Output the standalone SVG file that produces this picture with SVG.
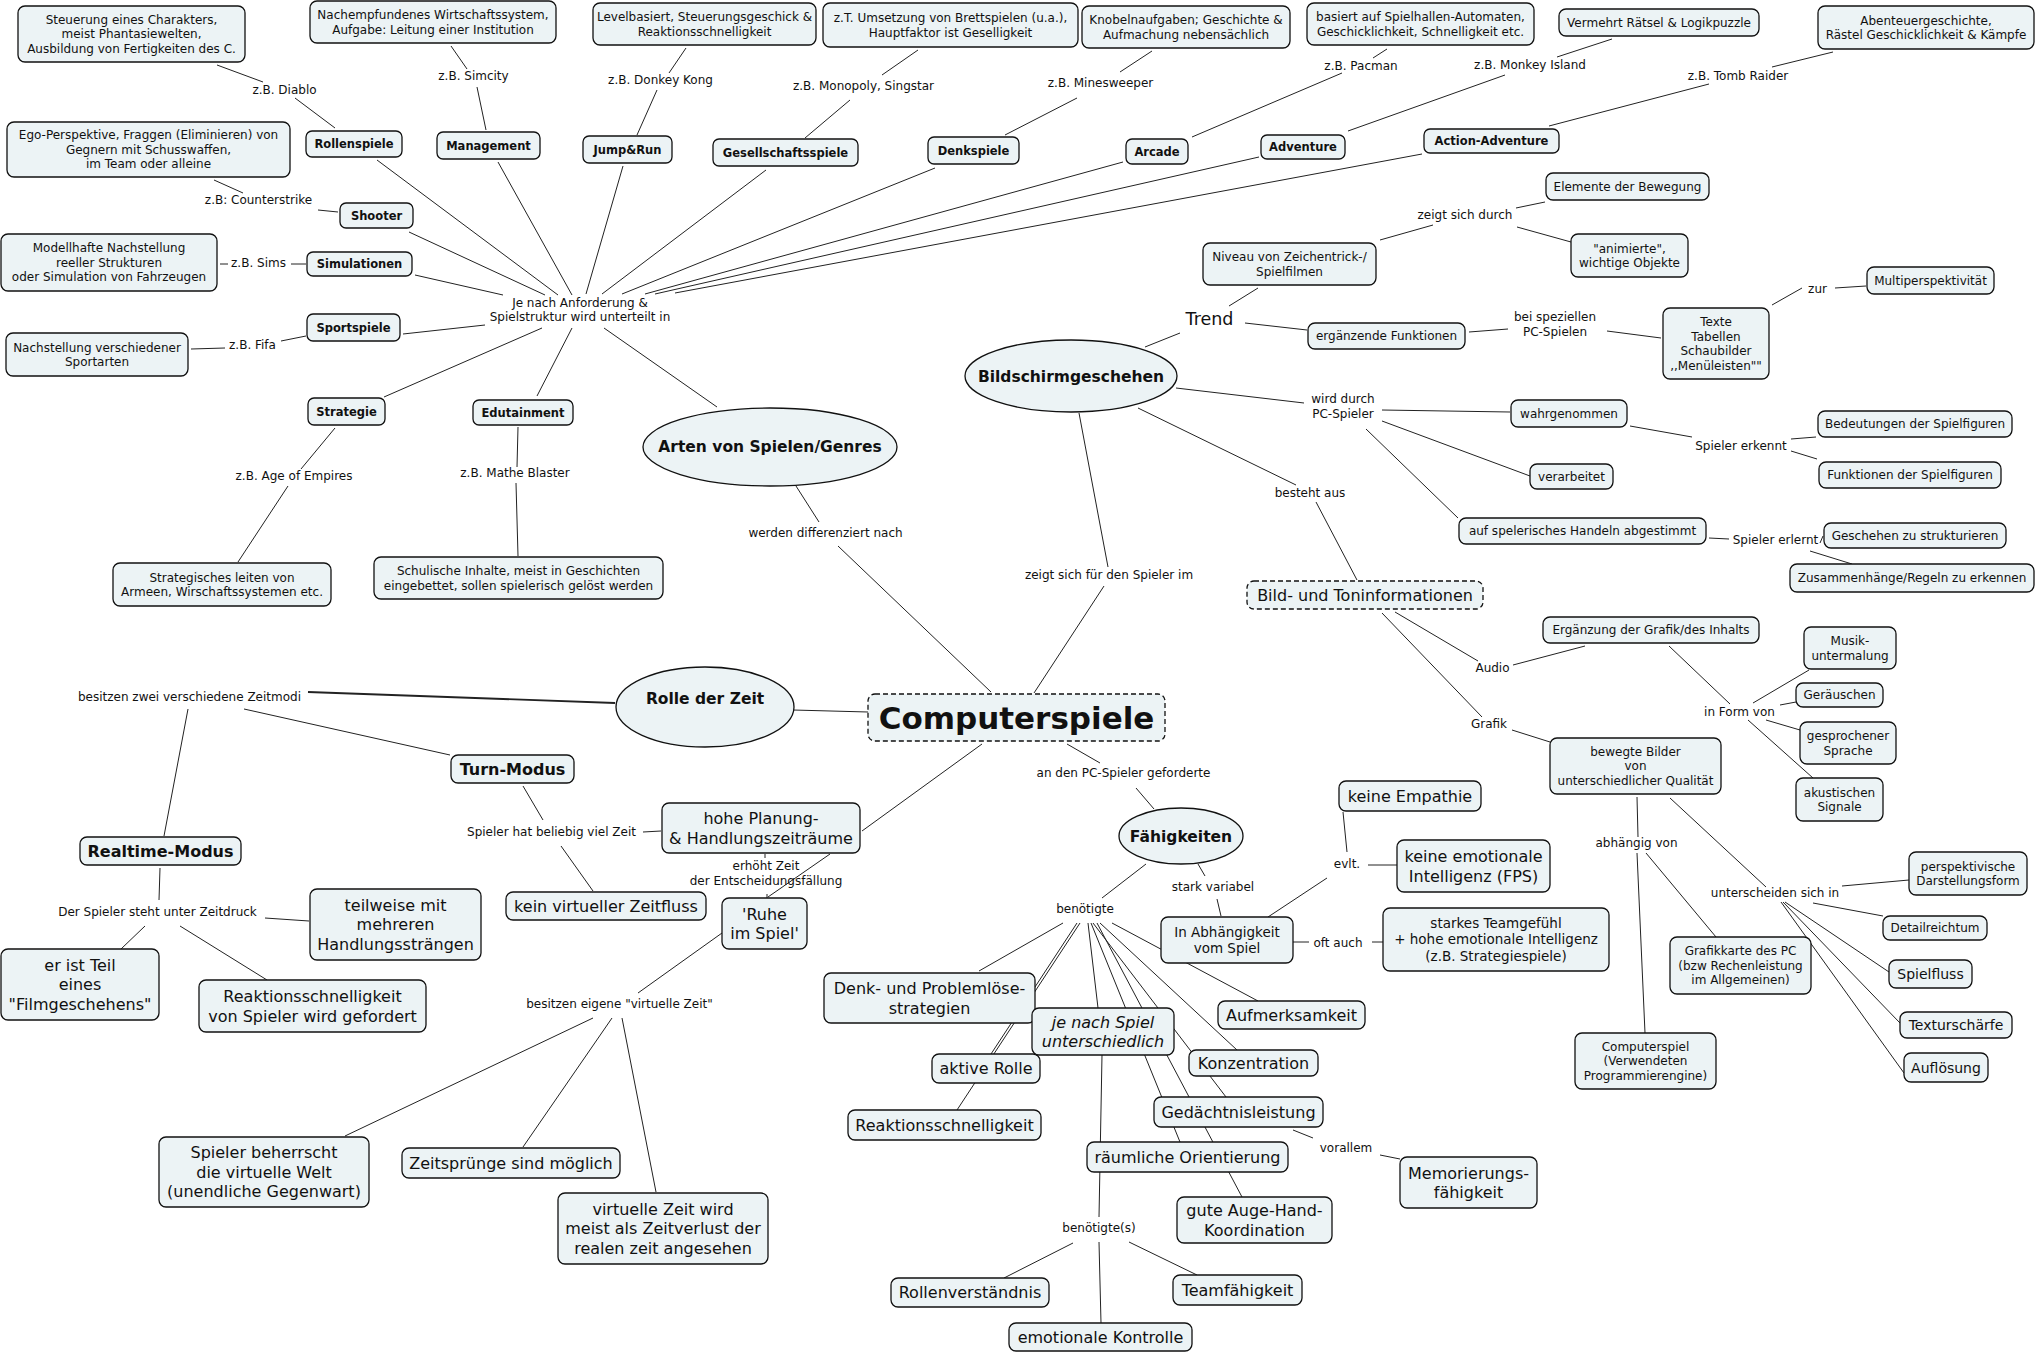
<svg xmlns="http://www.w3.org/2000/svg" width="2037" height="1354" viewBox="0 0 2037 1354">
<style>
text{font-family:"DejaVu Sans",Verdana,sans-serif;fill:#111;text-anchor:middle}
.box{fill:#ecf3f5;stroke:#111;stroke-width:1.3}
.dash{stroke-dasharray:5 3}
.s{font-size:12px}.g{font-size:11.5px;font-weight:bold}.m{font-size:16px}.mb{font-size:16px;font-weight:bold}
.e{font-size:15.5px;font-weight:bold}.n{font-size:13.5px}.k{font-size:14px}.i{font-style:italic}
#edges line{stroke:#222;stroke-width:1;fill:none}
</style>
<rect width="2037" height="1354" fill="#fff"/>
<g id="edges">
<line x1="217" y1="65" x2="263" y2="82"/><line x1="295" y1="98" x2="335" y2="128"/>
<line x1="451" y1="46" x2="467" y2="69"/><line x1="477" y1="87" x2="486" y2="130"/>
<line x1="214" y1="180" x2="243" y2="193"/><line x1="318" y1="210" x2="338" y2="212"/>
<line x1="220" y1="264" x2="228" y2="264"/><line x1="291" y1="264" x2="306" y2="264"/>
<line x1="191" y1="349" x2="225" y2="348"/><line x1="281" y1="341" x2="306" y2="336"/>
<line x1="377" y1="160" x2="558" y2="295"/><line x1="409" y1="232" x2="545" y2="295"/>
<line x1="415" y1="275" x2="503" y2="295"/><line x1="403" y1="334" x2="485" y2="325"/>
<line x1="384" y1="397" x2="542" y2="328"/><line x1="498" y1="162" x2="572" y2="295"/>
<line x1="623" y1="166" x2="586" y2="294"/><line x1="766" y1="170" x2="602" y2="294"/>
<line x1="935" y1="168" x2="622" y2="294"/><line x1="1123" y1="162" x2="645" y2="294"/>
<line x1="1259" y1="157" x2="655" y2="294"/><line x1="1422" y1="154" x2="675" y2="293"/>
<line x1="537" y1="396" x2="572" y2="328"/><line x1="604" y1="328" x2="717" y2="407"/>
<line x1="335" y1="428" x2="301" y2="469"/><line x1="288" y1="486" x2="238" y2="562"/>
<line x1="518" y1="427" x2="517" y2="467"/><line x1="516" y1="483" x2="518" y2="556"/>
<line x1="686" y1="48" x2="669" y2="73"/><line x1="657" y1="90" x2="637" y2="135"/>
<line x1="918" y1="50" x2="882" y2="75"/><line x1="850" y1="100" x2="805" y2="138"/>
<line x1="1152" y1="51" x2="1120" y2="72"/><line x1="1077" y1="98" x2="1005" y2="135"/>
<line x1="1192" y1="137" x2="1342" y2="73"/><line x1="1373" y1="58" x2="1387" y2="49"/>
<line x1="1348" y1="131" x2="1505" y2="75"/><line x1="1557" y1="57" x2="1612" y2="39"/>
<line x1="1549" y1="126" x2="1709" y2="84"/><line x1="1772" y1="67" x2="1833" y2="52"/>
<line x1="1145" y1="347" x2="1180" y2="333"/><line x1="1229" y1="306" x2="1258" y2="288"/>
<line x1="1380" y1="240" x2="1433" y2="225"/><line x1="1516" y1="208" x2="1545" y2="202"/>
<line x1="1517" y1="227" x2="1571" y2="242"/>
<line x1="1245" y1="323" x2="1307" y2="330"/><line x1="1469" y1="332" x2="1508" y2="329"/>
<line x1="1607" y1="331" x2="1661" y2="338"/><line x1="1772" y1="305" x2="1802" y2="288"/>
<line x1="1835" y1="288" x2="1866" y2="286"/>
<line x1="1176" y1="388" x2="1304" y2="403"/><line x1="1382" y1="410" x2="1510" y2="412"/>
<line x1="1630" y1="426" x2="1692" y2="437"/><line x1="1791" y1="439" x2="1816" y2="437"/>
<line x1="1791" y1="451" x2="1817" y2="459"/>
<line x1="1382" y1="421" x2="1530" y2="476"/><line x1="1366" y1="429" x2="1458" y2="518"/>
<line x1="1709" y1="538" x2="1729" y2="539"/><line x1="1820" y1="543" x2="1823" y2="536"/>
<line x1="1810" y1="551" x2="1852" y2="564"/>
<line x1="1138" y1="408" x2="1296" y2="485"/><line x1="1316" y1="502" x2="1357" y2="580"/>
<line x1="1079" y1="413" x2="1108" y2="567"/><line x1="1104" y1="586" x2="1034" y2="693"/>
<line x1="991" y1="692" x2="838" y2="546"/><line x1="819" y1="522" x2="796" y2="486"/>
<line x1="793" y1="710" x2="868" y2="712"/><line x1="615" y1="703" x2="308" y2="692" style="stroke-width:1.8"/>
<line x1="244" y1="709" x2="450" y2="755"/><line x1="188" y1="709" x2="164" y2="836"/>
<line x1="160" y1="868" x2="159" y2="900"/><line x1="265" y1="918" x2="309" y2="921"/>
<line x1="145" y1="926" x2="121" y2="949"/><line x1="180" y1="926" x2="267" y2="980"/>
<line x1="523" y1="786" x2="543" y2="820"/><line x1="643" y1="832" x2="661" y2="831"/>
<line x1="561" y1="846" x2="593" y2="891"/>
<line x1="982" y1="744" x2="862" y2="831"/>
<line x1="830" y1="854" x2="768" y2="897"/><line x1="765" y1="854" x2="765" y2="858"/>
<line x1="767" y1="894" x2="767" y2="898"/>
<line x1="722" y1="933" x2="638" y2="993"/><line x1="593" y1="1018" x2="345" y2="1136"/>
<line x1="612" y1="1018" x2="523" y2="1147"/><line x1="622" y1="1018" x2="656" y2="1192"/>
<line x1="1067" y1="744" x2="1100" y2="763"/><line x1="1136" y1="788" x2="1154" y2="809"/>
<line x1="1198" y1="864" x2="1205" y2="876"/><line x1="1217" y1="899" x2="1221" y2="916"/>
<line x1="1146" y1="864" x2="1102" y2="898"/>
<line x1="1063" y1="923" x2="979" y2="971"/><line x1="1077" y1="923" x2="991" y2="1054"/>
<line x1="1080" y1="923" x2="957" y2="1110"/><line x1="1088" y1="923" x2="1098" y2="1008"/>
<line x1="1091" y1="923" x2="1180" y2="1142"/><line x1="1097" y1="923" x2="1242" y2="1197"/>
<line x1="1093" y1="923" x2="1226" y2="1097"/><line x1="1100" y1="923" x2="1237" y2="1050"/>
<line x1="1112" y1="923" x2="1258" y2="1001"/>
<line x1="1102" y1="1055" x2="1099" y2="1217"/>
<line x1="1073" y1="1243" x2="1004" y2="1278"/><line x1="1099" y1="1242" x2="1101" y2="1323"/>
<line x1="1129" y1="1242" x2="1197" y2="1275"/>
<line x1="1293" y1="1130" x2="1313" y2="1138"/><line x1="1380" y1="1155" x2="1400" y2="1159"/>
<line x1="1268" y1="917" x2="1327" y2="878"/><line x1="1347" y1="852" x2="1343" y2="812"/>
<line x1="1368" y1="865" x2="1397" y2="865"/>
<line x1="1293" y1="942" x2="1309" y2="942"/><line x1="1372" y1="942" x2="1383" y2="942"/>
<line x1="1395" y1="612" x2="1478" y2="661"/><line x1="1513" y1="665" x2="1585" y2="646"/>
<line x1="1382" y1="613" x2="1482" y2="717"/><line x1="1512" y1="730" x2="1550" y2="742"/>
<line x1="1669" y1="646" x2="1730" y2="704"/><line x1="1753" y1="703" x2="1809" y2="670"/>
<line x1="1780" y1="705" x2="1796" y2="702"/><line x1="1766" y1="720" x2="1800" y2="730"/>
<line x1="1748" y1="720" x2="1813" y2="778"/>
<line x1="1637" y1="797" x2="1638" y2="837"/><line x1="1637" y1="853" x2="1645" y2="1033"/>
<line x1="1646" y1="853" x2="1716" y2="937"/>
<line x1="1670" y1="798" x2="1766" y2="887"/><line x1="1842" y1="886" x2="1909" y2="880"/>
<line x1="1813" y1="903" x2="1883" y2="916"/><line x1="1785" y1="902" x2="1889" y2="972"/>
<line x1="1783" y1="902" x2="1900" y2="1023"/><line x1="1781" y1="902" x2="1904" y2="1073"/>
</g>
<g id="labels" class="s">
<text x="284.5" y="94.3">z.B. Diablo</text>
<text x="473.5" y="80.3">z.B. Simcity</text>
<text x="258.5" y="204.3">z.B: Counterstrike</text>
<text x="258.5" y="267.3">z.B. Sims</text>
<text x="580" y="307.3">Je nach Anforderung &amp;<tspan x="580" dy="14">Spielstruktur wird unterteilt in</tspan></text>
<text x="252.5" y="349.3">z.B. Fifa</text>
<text x="294" y="480.3">z.B. Age of Empires</text>
<text x="515" y="477.3">z.B. Mathe Blaster</text>
<text x="660.5" y="84.3">z.B. Donkey Kong</text>
<text x="863.5" y="90.3">z.B. Monopoly, Singstar</text>
<text x="1100.5" y="87.3">z.B. Minesweeper</text>
<text x="1361" y="70.3">z.B. Pacman</text>
<text x="1530" y="69.3">z.B. Monkey Island</text>
<text x="1738" y="80.3">z.B. Tomb Raider</text>
<text x="1209.5" y="325.3" style="font-size:17.5px">Trend</text>
<text x="1465" y="219.3">zeigt sich durch</text>
<text x="1555" y="321.3">bei speziellen<tspan x="1555" dy="15">PC-Spielen</tspan></text>
<text x="1817.5" y="293.3">zur</text>
<text x="1343" y="403.3">wird durch<tspan x="1343" dy="15">PC-Spieler</tspan></text>
<text x="1741" y="450.3">Spieler erkennt</text>
<text x="1775.5" y="544.3">Spieler erlernt</text>
<text x="1310" y="497.3">besteht aus</text>
<text x="1109" y="579.3">zeigt sich für den Spieler im</text>
<text x="825.5" y="537.3">werden differenziert nach</text>
<text x="189.5" y="701.3">besitzen zwei verschiedene Zeitmodi</text>
<text x="157.5" y="916.3">Der Spieler steht unter Zeitdruck</text>
<text x="551.5" y="836.3">Spieler hat beliebig viel Zeit</text>
<text x="766" y="870.3">erhöht Zeit<tspan x="766" dy="15">der Entscheidungsfällung</tspan></text>
<text x="619.5" y="1008.3">besitzen eigene "virtuelle Zeit"</text>
<text x="1123.5" y="777.3">an den PC-Spieler geforderte</text>
<text x="1213" y="891.3">stark variabel</text>
<text x="1085" y="913.3">benötigte</text>
<text x="1347" y="868.3">evlt.</text>
<text x="1338" y="947.3">oft auch</text>
<text x="1346" y="1152.3">vorallem</text>
<text x="1099" y="1232.3">benötigte(s)</text>
<text x="1492.5" y="672.3">Audio</text>
<text x="1489" y="728.3">Grafik</text>
<text x="1739.5" y="716.3">in Form von</text>
<text x="1636.5" y="847.3">abhängig von</text>
<text x="1775" y="897.3">unterscheiden sich in</text>
</g>
<g id="n_steuerung"><rect class="box" x="18" y="6" width="227" height="56" rx="7"/><text class="s" x="131.5" y="23.8">Steuerung eines Charakters,<tspan x="131.5" dy="14.5">meist Phantasiewelten,</tspan><tspan x="131.5" dy="14.5">Ausbildung von Fertigkeiten des C.</tspan></text></g>
<g id="n_rollenspiele"><rect class="box" x="306" y="131" width="96" height="26" rx="6"/><text class="g" x="354" y="148.1">Rollenspiele</text></g>
<g id="n_wirtschaft"><rect class="box" x="310" y="1" width="246" height="42" rx="7"/><text class="s" x="433" y="19.05">Nachempfundenes Wirtschaftssystem,<tspan x="433" dy="14.5">Aufgabe: Leitung einer Institution</tspan></text></g>
<g id="n_management"><rect class="box" x="437" y="132" width="103" height="27" rx="6"/><text class="g" x="488.5" y="149.6">Management</text></g>
<g id="n_ego"><rect class="box" x="7" y="122" width="283" height="55" rx="7"/><text class="s" x="148.5" y="139.3">Ego-Perspektive, Fraggen (Eliminieren) von<tspan x="148.5" dy="14.5">Gegnern mit Schusswaffen,</tspan><tspan x="148.5" dy="14.5">im Team oder alleine</tspan></text></g>
<g id="n_shooter"><rect class="box" x="340" y="203" width="73" height="25" rx="6"/><text class="g" x="376.5" y="219.6">Shooter</text></g>
<g id="n_modell"><rect class="box" x="1" y="234" width="216" height="57" rx="7"/><text class="s" x="109" y="252.3">Modellhafte Nachstellung<tspan x="109" dy="14.5">reeller Strukturen</tspan><tspan x="109" dy="14.5">oder Simulation von Fahrzeugen</tspan></text></g>
<g id="n_simulationen"><rect class="box" x="307" y="252" width="105" height="24" rx="6"/><text class="g" x="359.5" y="268.1">Simulationen</text></g>
<g id="n_sportspiele"><rect class="box" x="307" y="314" width="93" height="27" rx="6"/><text class="g" x="353.5" y="331.6">Sportspiele</text></g>
<g id="n_nachstellung"><rect class="box" x="6" y="333" width="182" height="43" rx="7"/><text class="s" x="97" y="351.55">Nachstellung verschiedener<tspan x="97" dy="14.5">Sportarten</tspan></text></g>
<g id="n_strategie"><rect class="box" x="308" y="398" width="77" height="27" rx="6"/><text class="g" x="346.5" y="415.6">Strategie</text></g>
<g id="n_edutainment"><rect class="box" x="473" y="400" width="100" height="25" rx="6"/><text class="g" x="523" y="416.6">Edutainment</text></g>
<g id="n_strat_desc"><rect class="box" x="113" y="563" width="218" height="43" rx="7"/><text class="s" x="222" y="581.55">Strategisches leiten von<tspan x="222" dy="14.5">Armeen, Wirschaftssystemen etc.</tspan></text></g>
<g id="n_schulisch"><rect class="box" x="374" y="557" width="289" height="42" rx="7"/><text class="s" x="518.5" y="575.05">Schulische Inhalte, meist in Geschichten<tspan x="518.5" dy="14.5">eingebettet, sollen spielerisch gelöst werden</tspan></text></g>
<g id="n_level"><rect class="box" x="593" y="3" width="223" height="42" rx="7"/><text class="s" x="704.5" y="21.05">Levelbasiert, Steuerungsgeschick &amp;<tspan x="704.5" dy="14.5">Reaktionsschnelligkeit</tspan></text></g>
<g id="n_jumprun"><rect class="box" x="583" y="136" width="89" height="27" rx="6"/><text class="g" x="627.5" y="153.6">Jump&amp;Run</text></g>
<g id="n_brett"><rect class="box" x="823" y="3" width="255" height="44" rx="7"/><text class="s" x="950.5" y="22.05">z.T. Umsetzung von Brettspielen (u.a.),<tspan x="950.5" dy="14.5">Hauptfaktor ist Geselligkeit</tspan></text></g>
<g id="n_gesellschaft"><rect class="box" x="713" y="139" width="145" height="27" rx="6"/><text class="g" x="785.5" y="156.6">Gesellschaftsspiele</text></g>
<g id="n_denkspiele"><rect class="box" x="928" y="137" width="91" height="27" rx="6"/><text class="g" x="973.5" y="154.6">Denkspiele</text></g>
<g id="n_knobel"><rect class="box" x="1082" y="6" width="208" height="42" rx="7"/><text class="s" x="1186" y="24.05">Knobelnaufgaben; Geschichte &amp;<tspan x="1186" dy="14.5">Aufmachung nebensächlich</tspan></text></g>
<g id="n_arcade"><rect class="box" x="1126" y="139" width="62" height="25" rx="6"/><text class="g" x="1157" y="155.6">Arcade</text></g>
<g id="n_spielhallen"><rect class="box" x="1307" y="3" width="227" height="42" rx="7"/><text class="s" x="1420.5" y="21.05">basiert auf Spielhallen-Automaten,<tspan x="1420.5" dy="14.5">Geschicklichkeit, Schnelligkeit etc.</tspan></text></g>
<g id="n_adventure"><rect class="box" x="1261" y="135" width="84" height="24" rx="6"/><text class="g" x="1303" y="151.1">Adventure</text></g>
<g id="n_raetsel"><rect class="box" x="1559" y="9" width="200" height="27" rx="7"/><text class="s" x="1659" y="26.8">Vermehrt Rätsel &amp; Logikpuzzle</text></g>
<g id="n_actadv"><rect class="box" x="1424" y="129" width="135" height="24" rx="6"/><text class="g" x="1491.5" y="145.1">Action-Adventure</text></g>
<g id="n_abenteuer"><rect class="box" x="1818" y="6" width="216" height="43" rx="7"/><text class="s" x="1926" y="24.55">Abenteuergeschichte,<tspan x="1926" dy="14.5">Rästel Geschicklichkeit &amp; Kämpfe</tspan></text></g>
<g id="n_bildschirm"><ellipse class="box" cx="1071" cy="376" rx="106" ry="36"/><text class="e" x="1071" y="381.6">Bildschirmgeschehen</text></g>
<g id="n_niveau"><rect class="box" x="1203" y="243" width="173" height="42" rx="7"/><text class="s" x="1289.5" y="261.05">Niveau von Zeichentrick-/<tspan x="1289.5" dy="14.5">Spielfilmen</tspan></text></g>
<g id="n_elemente"><rect class="box" x="1546" y="173" width="163" height="27" rx="7"/><text class="s" x="1627.5" y="190.8">Elemente der Bewegung</text></g>
<g id="n_animiert"><rect class="box" x="1571" y="234" width="117" height="43" rx="7"/><text class="s" x="1629.5" y="252.55">"animierte",<tspan x="1629.5" dy="14.5">wichtige Objekte</tspan></text></g>
<g id="n_ergaenzend"><rect class="box" x="1308" y="323" width="157" height="26" rx="7"/><text class="s" x="1386.5" y="340.3">ergänzende Funktionen</text></g>
<g id="n_texte"><rect class="box" x="1663" y="308" width="106" height="71" rx="7"/><text class="s" x="1716" y="326.05">Texte<tspan x="1716" dy="14.5">Tabellen</tspan><tspan x="1716" dy="14.5">Schaubilder</tspan><tspan x="1716" dy="14.5">,,Menüleisten""</tspan></text></g>
<g id="n_multi"><rect class="box" x="1867" y="267" width="127" height="27" rx="7"/><text class="s" x="1930.5" y="284.8">Multiperspektivität</text></g>
<g id="n_wahr"><rect class="box" x="1511" y="400" width="116" height="27" rx="7"/><text class="s" x="1569" y="417.8">wahrgenommen</text></g>
<g id="n_bedeutungen"><rect class="box" x="1818" y="411" width="194" height="26" rx="7"/><text class="s" x="1915" y="428.3">Bedeutungen der Spielfiguren</text></g>
<g id="n_funktionen"><rect class="box" x="1819" y="462" width="182" height="26" rx="7"/><text class="s" x="1910" y="479.3">Funktionen der Spielfiguren</text></g>
<g id="n_verarbeitet"><rect class="box" x="1530" y="464" width="83" height="25" rx="7"/><text class="s" x="1571.5" y="480.8">verarbeitet</text></g>
<g id="n_handeln"><rect class="box" x="1459" y="518" width="247" height="26" rx="7"/><text class="s" x="1582.5" y="535.3">auf spelerisches Handeln abgestimmt</text></g>
<g id="n_geschehen"><rect class="box" x="1824" y="523" width="182" height="25" rx="7"/><text class="s" x="1915" y="539.8">Geschehen zu strukturieren</text></g>
<g id="n_zusammen"><rect class="box" x="1790" y="564" width="244" height="28" rx="7"/><text class="s" x="1912" y="582.3">Zusammenhänge/Regeln zu erkennen</text></g>
<g id="n_bildton"><rect class="box dash" x="1247" y="581" width="236" height="28" rx="7"/><text class="m" x="1365" y="600.8">Bild- und Toninformationen</text></g>
<g id="n_computerspiele"><rect class="box dash" x="868" y="694" width="297" height="47" rx="7"/><text x="1016.5" y="728.7" style="font-size:31px;font-weight:bold">Computerspiele</text></g>
<g id="n_arten"><ellipse class="box" cx="770" cy="447" rx="127" ry="39"/><text class="e" x="770" y="451.6">Arten von Spielen/Genres</text></g>
<g id="n_rolle"><ellipse class="box" cx="705" cy="707" rx="89" ry="40"/><text class="e" x="705" y="703.6">Rolle der Zeit</text></g>
<g id="n_turn"><rect class="box" x="451" y="755" width="123" height="28" rx="7"/><text class="mb" x="512.5" y="774.8">Turn-Modus</text></g>
<g id="n_realtime"><rect class="box" x="80" y="837" width="161" height="28" rx="7"/><text class="mb" x="160.5" y="856.8">Realtime-Modus</text></g>
<g id="n_teilweise"><rect class="box" x="310" y="889" width="171" height="71" rx="7"/><text class="m" x="395.5" y="910.8">teilweise mit<tspan x="395.5" dy="19.5">mehreren</tspan><tspan x="395.5" dy="19.5">Handlungssträngen</tspan></text></g>
<g id="n_teil"><rect class="box" x="1" y="949" width="158" height="71" rx="7"/><text class="m" x="80" y="970.8">er ist Teil<tspan x="80" dy="19.5">eines</tspan><tspan x="80" dy="19.5">"Filmgeschehens"</tspan></text></g>
<g id="n_reaktion1"><rect class="box" x="199" y="980" width="227" height="52" rx="7"/><text class="m" x="312.5" y="1002.05">Reaktionsschnelligkeit<tspan x="312.5" dy="19.5">von Spieler wird gefordert</tspan></text></g>
<g id="n_planung"><rect class="box" x="662" y="803" width="198" height="50" rx="7"/><text class="m" x="761" y="824.05">hohe Planung-<tspan x="761" dy="19.5">&amp; Handlungszeiträume</tspan></text></g>
<g id="n_kein"><rect class="box" x="506" y="892" width="200" height="28" rx="7"/><text class="m" x="606" y="911.8">kein virtueller Zeitfluss</text></g>
<g id="n_ruhe"><rect class="box" x="722" y="898" width="85" height="51" rx="7"/><text class="m" x="764.5" y="919.55">'Ruhe<tspan x="764.5" dy="19.5">im Spiel'</tspan></text></g>
<g id="n_beherrscht"><rect class="box" x="159" y="1137" width="210" height="70" rx="7"/><text class="m" x="264" y="1158.3">Spieler beherrscht<tspan x="264" dy="19.5">die virtuelle Welt</tspan><tspan x="264" dy="19.5">(unendliche Gegenwart)</tspan></text></g>
<g id="n_zeitspruenge"><rect class="box" x="402" y="1148" width="218" height="30" rx="7"/><text class="m" x="511" y="1168.8">Zeitsprünge sind möglich</text></g>
<g id="n_virtzeit"><rect class="box" x="558" y="1193" width="210" height="71" rx="7"/><text class="m" x="663" y="1214.8">virtuelle Zeit wird<tspan x="663" dy="19.5">meist als Zeitverlust der</tspan><tspan x="663" dy="19.5">realen zeit angesehen</tspan></text></g>
<g id="n_faehigkeiten"><ellipse class="box" cx="1181" cy="836" rx="62" ry="28"/><text class="e" x="1181" y="841.6">Fähigkeiten</text></g>
<g id="n_abhaengig"><rect class="box" x="1161" y="917" width="132" height="46" rx="7"/><text class="n" x="1227" y="936.55">In Abhängigkeit<tspan x="1227" dy="16.7">vom Spiel</tspan></text></g>
<g id="n_empathie"><rect class="box" x="1339" y="781" width="142" height="30" rx="7"/><text class="m" x="1410" y="801.8">keine Empathie</text></g>
<g id="n_keineemo"><rect class="box" x="1397" y="840" width="153" height="52" rx="7"/><text class="m" x="1473.5" y="862.05">keine emotionale<tspan x="1473.5" dy="19.5">Intelligenz (FPS)</tspan></text></g>
<g id="n_team"><rect class="box" x="1383" y="908" width="226" height="63" rx="7"/><text class="n" x="1496" y="927.7">starkes Teamgefühl<tspan x="1496" dy="16.7">+ hohe emotionale Intelligenz</tspan><tspan x="1496" dy="16.7">(z.B. Strategiespiele)</tspan></text></g>
<g id="n_denkprob"><rect class="box" x="824" y="973" width="211" height="50" rx="7"/><text class="m" x="929.5" y="994.05">Denk- und Problemlöse-<tspan x="929.5" dy="19.5">strategien</tspan></text></g>
<g id="n_aktiv"><rect class="box" x="932" y="1054" width="108" height="29" rx="7"/><text class="m" x="986" y="1074.3">aktive Rolle</text></g>
<g id="n_reaktion2"><rect class="box" x="848" y="1110" width="193" height="30" rx="7"/><text class="m" x="944.5" y="1130.8">Reaktionsschnelligkeit</text></g>
<g id="n_jenach"><rect class="box" x="1032" y="1008" width="142" height="47" rx="7"/><text class="m i" x="1103" y="1027.55">je nach Spiel<tspan x="1103" dy="19.5">unterschiedlich</tspan></text></g>
<g id="n_aufmerk"><rect class="box" x="1218" y="1001" width="147" height="28" rx="7"/><text class="m" x="1291.5" y="1020.8">Aufmerksamkeit</text></g>
<g id="n_konz"><rect class="box" x="1189" y="1050" width="129" height="26" rx="7"/><text class="m" x="1253.5" y="1068.8">Konzentration</text></g>
<g id="n_gedaechtnis"><rect class="box" x="1154" y="1097" width="169" height="30" rx="7"/><text class="m" x="1238.5" y="1117.8">Gedächtnisleistung</text></g>
<g id="n_raeumlich"><rect class="box" x="1087" y="1142" width="201" height="30" rx="7"/><text class="m" x="1187.5" y="1162.8">räumliche Orientierung</text></g>
<g id="n_auge"><rect class="box" x="1177" y="1197" width="155" height="46" rx="7"/><text class="m" x="1254.5" y="1216.05">gute Auge-Hand-<tspan x="1254.5" dy="19.5">Koordination</tspan></text></g>
<g id="n_memo"><rect class="box" x="1400" y="1157" width="137" height="51" rx="7"/><text class="m" x="1468.5" y="1178.55">Memorierungs-<tspan x="1468.5" dy="19.5">fähigkeit</tspan></text></g>
<g id="n_rollenv"><rect class="box" x="891" y="1278" width="158" height="29" rx="7"/><text class="m" x="970" y="1298.3">Rollenverständnis</text></g>
<g id="n_emokontrolle"><rect class="box" x="1009" y="1323" width="183" height="28" rx="7"/><text class="m" x="1100.5" y="1342.8">emotionale Kontrolle</text></g>
<g id="n_teamf"><rect class="box" x="1173" y="1275" width="129" height="30" rx="7"/><text class="m" x="1237.5" y="1295.8">Teamfähigkeit</text></g>
<g id="n_ergaenzung"><rect class="box" x="1543" y="617" width="216" height="26" rx="7"/><text class="s" x="1651" y="634.3">Ergänzung der Grafik/des Inhalts</text></g>
<g id="n_bewegt"><rect class="box" x="1550" y="738" width="171" height="56" rx="7"/><text class="s" x="1635.5" y="755.8">bewegte Bilder<tspan x="1635.5" dy="14.5">von</tspan><tspan x="1635.5" dy="14.5">unterschiedlicher Qualität</tspan></text></g>
<g id="n_musik"><rect class="box" x="1804" y="627" width="92" height="42" rx="7"/><text class="s" x="1850" y="645.05">Musik-<tspan x="1850" dy="14.5">untermalung</tspan></text></g>
<g id="n_geraeusch"><rect class="box" x="1796" y="683" width="87" height="24" rx="7"/><text class="s" x="1839.5" y="699.3">Geräuschen</text></g>
<g id="n_gesprochen"><rect class="box" x="1800" y="722" width="96" height="42" rx="7"/><text class="s" x="1848" y="740.05">gesprochener<tspan x="1848" dy="14.5">Sprache</tspan></text></g>
<g id="n_akustisch"><rect class="box" x="1796" y="778" width="87" height="43" rx="7"/><text class="s" x="1839.5" y="796.55">akustischen<tspan x="1839.5" dy="14.5">Signale</tspan></text></g>
<g id="n_computerspiel2"><rect class="box" x="1575" y="1033" width="141" height="56" rx="7"/><text class="s" x="1645.5" y="1050.8">Computerspiel<tspan x="1645.5" dy="14.5">(Verwendeten</tspan><tspan x="1645.5" dy="14.5">Programmierengine)</tspan></text></g>
<g id="n_grafikkarte"><rect class="box" x="1670" y="937" width="141" height="57" rx="7"/><text class="s" x="1740.5" y="955.3">Grafikkarte des PC<tspan x="1740.5" dy="14.5">(bzw Rechenleistung</tspan><tspan x="1740.5" dy="14.5">im Allgemeinen)</tspan></text></g>
<g id="n_perspektiv"><rect class="box" x="1909" y="852" width="118" height="43" rx="7"/><text class="s" x="1968" y="870.55">perspektivische<tspan x="1968" dy="14.5">Darstellungsform</tspan></text></g>
<g id="n_detail"><rect class="box" x="1883" y="916" width="104" height="24" rx="7"/><text class="s" x="1935" y="932.3">Detailreichtum</text></g>
<g id="n_spielfluss"><rect class="box" x="1889" y="960" width="83" height="28" rx="7"/><text class="k" x="1930.5" y="979">Spielfluss</text></g>
<g id="n_textur"><rect class="box" x="1900" y="1012" width="112" height="26" rx="7"/><text class="k" x="1956" y="1030">Texturschärfe</text></g>
<g id="n_aufloesung"><rect class="box" x="1904" y="1053" width="84" height="29" rx="7"/><text class="k" x="1946" y="1072.5">Auflösung</text></g>
</svg>
